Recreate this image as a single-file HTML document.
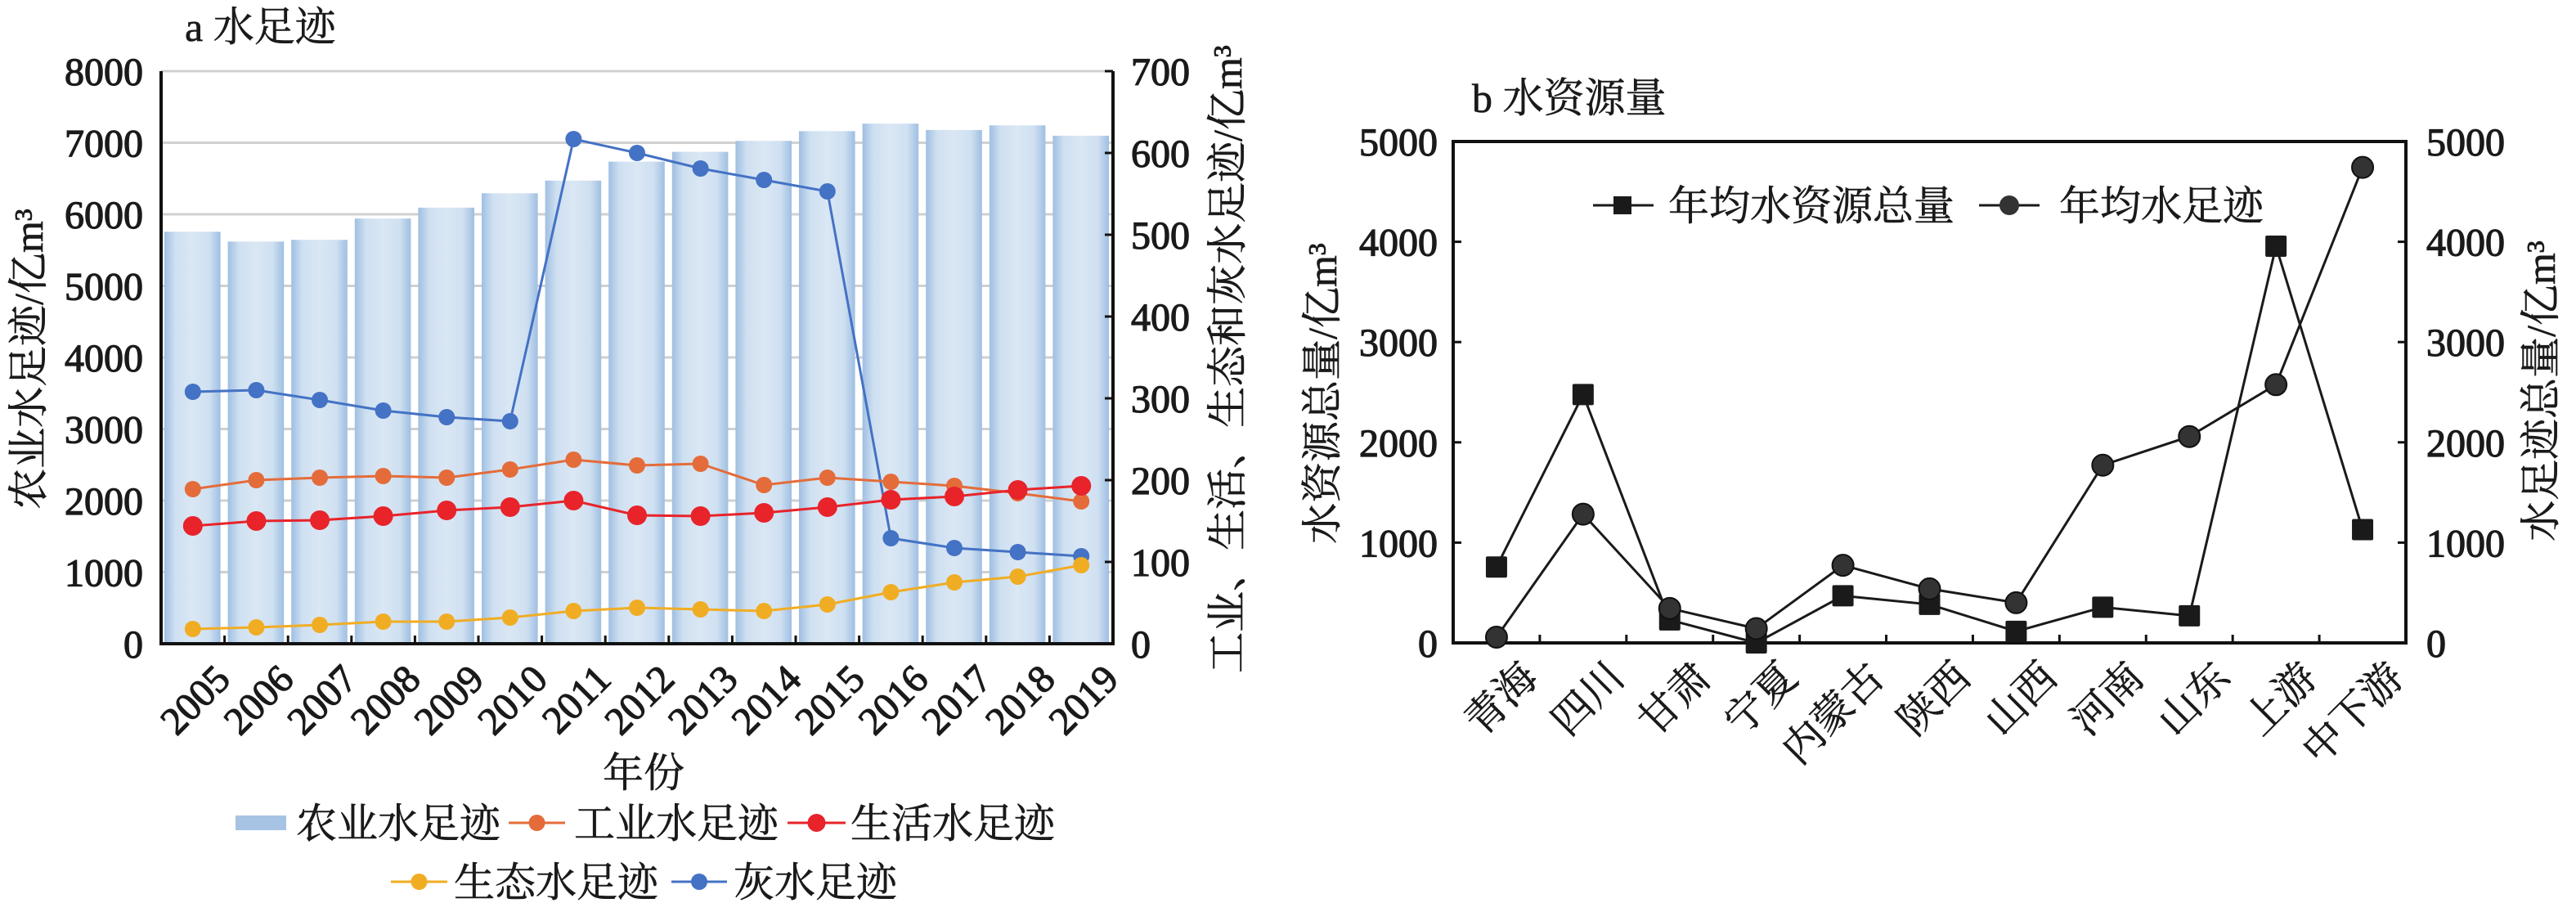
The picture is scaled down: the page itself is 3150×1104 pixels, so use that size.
<!DOCTYPE html>
<html><head><meta charset="utf-8"><style>
html,body{margin:0;padding:0;background:#fff;}
svg{display:block;}
text{font-family:"Liberation Serif","Noto Serif CJK SC",serif;fill:#1a1a1a;}
.n{font-size:48px;stroke:#1a1a1a;stroke-width:1.2px;}
.c{font-family:"Liberation Serif","Noto Serif CJK SC",serif;font-size:50px;stroke:#1a1a1a;stroke-width:0.6px;}
</style></head><body>
<svg id="s" width="3150" height="1104" viewBox="0 0 3150 1104" xmlns="http://www.w3.org/2000/svg">
<defs>
<linearGradient id="bg" x1="0" x2="1" y1="0" y2="0">
<stop offset="0" stop-color="#9fbfe2"/><stop offset="0.2" stop-color="#cfe0f1"/><stop offset="0.5" stop-color="#dae7f4"/><stop offset="0.8" stop-color="#cfe0f1"/><stop offset="1" stop-color="#9fbfe2"/>
</linearGradient>
</defs>
<g id="a"></g>
<g id="b"></g>
</svg>
<script>
const NS="http://www.w3.org/2000/svg";
function el(p,t,a,txt){const e=document.createElementNS(NS,t);for(const k in a)e.setAttribute(k,a[k]);if(txt!==undefined)e.textContent=txt;p.appendChild(e);return e;}
const A=document.getElementById('a'),B=document.getElementById('b');
const L=197,R=1361,T=87,BT=787,cw=(R-L)/15;
const yl=v=>BT-(v/8000)*(BT-T), yr=v=>BT-(v/700)*(BT-T);
for(let i=1;i<=8;i++){el(A,'line',{x1:L,x2:R,y1:yl(i*1000),y2:yl(i*1000),stroke:'#d0d0d0','stroke-width':3});}
const agr=[5756,5619,5643,5941,6093,6294,6471,6736,6873,7026,7162,7267,7178,7243,7098];
agr.forEach((v,i)=>{const x=L+i*cw+4;el(A,'rect',{x:x,y:yl(v),width:cw-9,height:BT-yl(v),fill:'url(#bg)'});});
el(A,'line',{x1:L,x2:L,y1:T,y2:BT+2,stroke:'#111','stroke-width':4});
el(A,'line',{x1:R,x2:R,y1:T,y2:BT+2,stroke:'#111','stroke-width':4});
el(A,'line',{x1:L-2,x2:R+2,y1:BT,y2:BT,stroke:'#111','stroke-width':4});
for(let i=0;i<=15;i++){el(A,'line',{x1:L+i*cw,x2:L+i*cw,y1:BT,y2:BT-10,stroke:'#111','stroke-width':3});}
for(let i=0;i<=8;i++){el(A,'text',{x:175,y:yl(i*1000)+17,'text-anchor':'end',class:'n'},String(i*1000));}
for(let i=0;i<=7;i++){el(A,'line',{x1:R,x2:R-10,y1:yr(i*100),y2:yr(i*100),stroke:'#111','stroke-width':3});
el(A,'text',{x:1383,y:yr(i*100)+17,class:'n'},String(i*100));}
const ser=[
['#4472c4',[308,310,298,285,277,272,617,600,581,567,553,129,117,112,107]],
['#e46c3a',[189,200,203,205,203,213,225,218,220,194,203,198,193,184,174]],
['#e8232a',[144,150,151,156,163,167,175,157,156,160,167,176,180,188,193]],
['#f0ad24',[18,20,23,27,27,32,40,44,42,40,48,63,75,82,96]]];
const rs=[10,10,12,10];
ser.forEach((s,k)=>{const pts=s[1].map((v,i)=>[L+(i+0.5)*cw,yr(v)]);
el(A,'polyline',{points:pts.map(p=>p.join(',')).join(' '),fill:'none',stroke:s[0],'stroke-width':3});
pts.forEach(p=>el(A,'circle',{cx:p[0],cy:p[1],r:rs[k],fill:s[0]}));});
for(let i=0;i<15;i++){const x=L+(i+0.5)*cw+24,y=BT+22;el(A,'text',{x:x,y:y,'text-anchor':'end',transform:`rotate(-45 ${x} ${y})`,class:'n','font-size':'52',dy:'34'},String(2005+i));}
el(A,'text',{x:226,y:50,class:'c','font-size':'48'},'a 水足迹');
el(A,'text',{x:787,y:962,'text-anchor':'middle',class:'c','font-size':'52'},'年份');
el(A,'text',{x:0,y:0,'text-anchor':'middle',class:'c','font-size':'52',transform:'translate(52,439) rotate(-90)'},'农业水足迹/亿m³');
el(A,'text',{x:0,y:0,'text-anchor':'middle',class:'c','font-size':'52',transform:'translate(1518,439) rotate(-90)'},'工业、生活、生态和灰水足迹/亿m³');
el(A,'rect',{x:288,y:997,width:62,height:18,fill:'#a7c3e4'});
el(A,'text',{x:362,y:1024,class:'c'},'农业水足迹');
function lg(x1,x2,y,c,r,tx,t){el(A,'line',{x1:x1,x2:x2,y1:y,y2:y,stroke:c,'stroke-width':3});el(A,'circle',{cx:(x1+x2)/2,cy:y,r:r,fill:c});el(A,'text',{x:tx,y:y+18,class:'c'},t);}
lg(622,691,1006,'#e46c3a',10,702,'工业水足迹');
lg(963,1034,1006,'#e8232a',11,1040,'生活水足迹');
lg(478,547,1078,'#f0ad24',10,555,'生态水足迹');
lg(821,889,1078,'#4472c4',10,897,'灰水足迹');
const L2=1777,R2=2942,T2=173,B2=786,cw2=(R2-L2)/11;
const yb=v=>B2-(v/5000)*(B2-T2);
el(B,'rect',{x:L2,y:T2,width:R2-L2,height:B2-T2,fill:'none',stroke:'#111','stroke-width':4});
for(let i=0;i<=5;i++){const y=yb(i*1000);
el(B,'line',{x1:L2,x2:L2+10,y1:y,y2:y,stroke:'#111','stroke-width':3});
el(B,'line',{x1:R2,x2:R2-10,y1:y,y2:y,stroke:'#111','stroke-width':3});
el(B,'text',{x:1758,y:y+17,'text-anchor':'end',class:'n'},String(i*1000));
el(B,'text',{x:2967,y:y+17,class:'n'},String(i*1000));}
for(let i=1;i<11;i++){el(B,'line',{x1:L2+i*cw2,x2:L2+i*cw2,y1:B2,y2:B2-10,stroke:'#111','stroke-width':3});}
const sq=[757,2477,229,0,470,384,115,356,270,3956,1130];
const ci=[57,1284,344,143,774,539,401,1772,2058,2575,4742];
const p1=sq.map((v,i)=>[L2+(i+0.5)*cw2,yb(v)]),p2=ci.map((v,i)=>[L2+(i+0.5)*cw2,yb(v)]);
el(B,'polyline',{points:p1.map(p=>p.join(',')).join(' '),fill:'none',stroke:'#1a1a1a','stroke-width':3});
el(B,'polyline',{points:p2.map(p=>p.join(',')).join(' '),fill:'none',stroke:'#1a1a1a','stroke-width':3});
p1.forEach(p=>el(B,'rect',{x:p[0]-13,y:p[1]-13,width:26,height:26,rx:2,fill:'#1a1a1a'}));
p2.forEach(p=>el(B,'circle',{cx:p[0],cy:p[1],r:13,fill:'#333',stroke:'#111','stroke-width':2}));
const cats=['青海','四川','甘肃','宁夏','内蒙古','陕西','山西','河南','山东','上游','中下游'];
cats.forEach((c,i)=>{const x=L2+(i+0.5)*cw2+26,y=B2+18;el(B,'text',{x:x,y:y,'text-anchor':'end',transform:`rotate(-45 ${x} ${y})`,class:'c','font-size':'52',dy:'38'},c);});
el(B,'text',{x:1800,y:137,class:'c','font-size':'48'},'b 水资源量');
el(B,'line',{x1:1948,x2:2022,y1:251,y2:251,stroke:'#1a1a1a','stroke-width':3});
el(B,'rect',{x:1973,y:240,width:22,height:22,fill:'#1a1a1a'});
el(B,'text',{x:2040,y:269,class:'c'},'年均水资源总量');
el(B,'line',{x1:2420,x2:2494,y1:251,y2:251,stroke:'#1a1a1a','stroke-width':3});
el(B,'circle',{cx:2457,cy:251,r:12,fill:'#333'});
el(B,'text',{x:2518,y:269,class:'c'},'年均水足迹');
el(B,'text',{x:0,y:0,'text-anchor':'middle',class:'c','font-size':'52',transform:'translate(1634,481) rotate(-90)'},'水资源总量/亿m³');
el(B,'text',{x:0,y:0,'text-anchor':'middle',class:'c','font-size':'52',transform:'translate(3124,478) rotate(-90)'},'水足迹总量/亿m³');
</script>
</body></html>
